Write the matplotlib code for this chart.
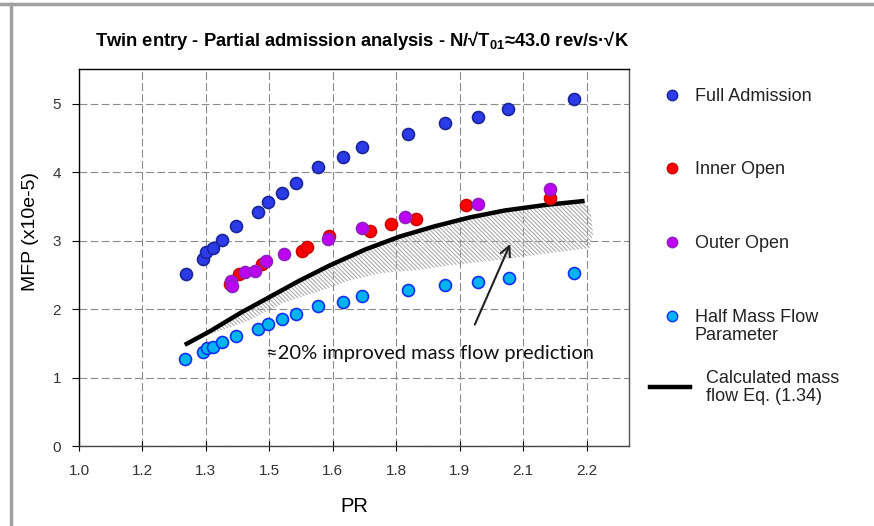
import numpy as np
import matplotlib
matplotlib.use("Agg")
import matplotlib.pyplot as plt
from matplotlib.lines import Line2D

plt.rcParams['font.family'] = ['Liberation Sans', 'DejaVu Sans']
plt.rcParams['mathtext.default'] = 'regular'
plt.rcParams['hatch.linewidth'] = 0.8

# Data (PR vs MFP x1e-5)
full_pr = [1.252, 1.294, 1.300, 1.317, 1.339, 1.370, 1.422, 1.447, 1.480, 1.512,
           1.564, 1.625, 1.669, 1.778, 1.865, 1.943, 2.014, 2.169]
full_mfp = [2.52, 2.73, 2.84, 2.90, 3.01, 3.21, 3.42, 3.57, 3.70, 3.84,
            4.08, 4.22, 4.36, 4.56, 4.71, 4.81, 4.92, 5.07]

inner_pr = [1.357, 1.379, 1.432, 1.526, 1.538, 1.591, 1.687, 1.737, 1.797, 1.914, 2.113]
inner_mfp = [2.37, 2.51, 2.66, 2.85, 2.91, 3.07, 3.14, 3.25, 3.31, 3.52, 3.62]

outer_pr = [1.359, 1.361, 1.392, 1.416, 1.441, 1.484, 1.589, 1.669, 1.771, 1.944, 2.114]
outer_mfp = [2.41, 2.34, 2.54, 2.56, 2.71, 2.81, 3.03, 3.18, 3.34, 3.54, 3.75]

half_pr = [1.250, 1.294, 1.303, 1.317, 1.339, 1.370, 1.422, 1.447, 1.479, 1.513,
           1.564, 1.624, 1.668, 1.778, 1.865, 1.942, 2.016, 2.169]
half_mfp = [1.27, 1.38, 1.43, 1.45, 1.52, 1.61, 1.71, 1.79, 1.85, 1.93,
            2.04, 2.11, 2.19, 2.28, 2.36, 2.40, 2.46, 2.53]

calc_pr = [1.250, 1.310, 1.380, 1.451, 1.522, 1.593, 1.676, 1.758, 1.841, 1.924,
           2.006, 2.101, 2.195]
calc_mfp = [1.48, 1.68, 1.94, 2.18, 2.42, 2.64, 2.87, 3.06, 3.21, 3.34,
            3.44, 3.52, 3.58]

# lower edge of the hatched "improvement" band
band_pr = [1.314, 1.404, 1.482, 1.562, 1.640, 1.718, 1.798, 1.876, 1.995, 2.113, 2.207]
band_mfp = [1.64, 1.84, 2.09, 2.25, 2.42, 2.53, 2.57, 2.64, 2.72, 2.82, 2.89]

xtick_pos = [1.0, 1.15, 1.3, 1.45, 1.6, 1.75, 1.9, 2.05, 2.2]
xtick_labels = ["1.0", "1.2", "1.3", "1.5", "1.6", "1.8", "1.9", "2.1", "2.2"]

W, H = 874, 526
fig = plt.figure(figsize=(8.74, 5.26), dpi=100)
ax = fig.add_axes([79 / W, 1 - 446.3 / H, 550 / W, 377 / H])

# hatched band between the calculated curve and the lower edge
top_x = [p for p in calc_pr if p >= 1.30]
top_y = [m for p, m in zip(calc_pr, calc_mfp) if p >= 1.30]
poly_x = top_x + [2.21, 2.215] + band_pr[::-1]
poly_y = top_y + [3.4, 3.1] + band_mfp[::-1]
ax.fill(poly_x, poly_y, facecolor='none', edgecolor='#acacac',
        hatch='\\\\\\\\\\\\\\\\', linewidth=0, zorder=2)

mk = dict(linestyle='none', marker='o', markersize=8.6, markeredgewidth=1.2, zorder=4)
ax.plot(full_pr, full_mfp, color='#2B3BE8', markeredgecolor='#1B2499', **mk)
ax.plot(inner_pr, inner_mfp, color='#FF0000', markeredgecolor='#D00000', **mk)
ax.plot(outer_pr, outer_mfp, color='#BE00F2', markeredgecolor='#8E20C0', **mk)
ax.plot(half_pr, half_mfp, color='#00B4F0', markeredgecolor='#1030F0', **mk)
ax.plot(calc_pr, calc_mfp, color='black', linewidth=3.2, zorder=3,
        solid_capstyle='butt', solid_joinstyle='round')

ax.annotate('', xy=(2.022, 2.99), xytext=(1.933, 1.74),
            arrowprops=dict(arrowstyle='->', color='#222222', lw=1.5, mutation_scale=18),
            zorder=5)
ax.text(1.829, 1.35, '\u224820% improved mass flow prediction', ha='center', va='center',
        fontsize=14.5, family=['Lato', 'DejaVu Sans'], color='#111111', zorder=5)

ax.set_xlim(1.0, 2.3)
ax.set_ylim(0, 5.5)
ax.set_xticks(xtick_pos)
ax.set_xticklabels(xtick_labels)
ax.set_yticks([0, 1, 2, 3, 4, 5])
ax.grid(True, color='#8a8a8a', linestyle=(0, (7, 3)), linewidth=0.8, zorder=0)
ax.set_axisbelow(True)
ax.tick_params(axis='x', direction='inout', length=7, pad=9, labelsize=11,
               labelcolor='#333333')
ax.tick_params(axis='y', direction='out', length=5, pad=8, labelsize=11,
               labelcolor='#333333')
for s in ax.spines.values():
    s.set_linewidth(1.0)
ax.spines['right'].set_color('#555555')
ax.spines['bottom'].set_color('#444444')

ax.set_xlabel('PR', fontsize=14.5, labelpad=14)
ax.set_ylabel('MFP (x10e-5)', fontsize=14)
ax.yaxis.set_label_coords(-0.073, 0.571)

fig.text(362 / W, 1 - 40 / H,
         'Twin entry - Partial admission analysis - N/\u221aT$_{01}$\u224843.0 rev/s\u00b7\u221aK',
         ha='center', va='center', fontsize=13.2, fontweight='bold')

# legend drawn on the right, outside the axes
def fx(px):
    return px / W


def fy(py):
    return 1 - py / H


leg = [
    (95, 'Full Admission', '#2B3BE8', '#1B2499'),
    (168, 'Inner Open', '#FF0000', '#D00000'),
    (242, 'Outer Open', '#BE00F2', '#8E20C0'),
    (316, 'Half Mass Flow\nParameter', '#00B4F0', '#1030F0'),
]
for py, label, fc, ec in leg:
    fig.add_artist(Line2D([fx(672)], [fy(py)], marker='o', markersize=7.5,
                          markerfacecolor=fc, markeredgecolor=ec, markeredgewidth=1,
                          linestyle='none', transform=fig.transFigure))
    fig.text(fx(695), fy(py - 7), label, ha='left', va='top', fontsize=13,
             color='#222222', linespacing=1.1)
fig.add_artist(Line2D([fx(650), fx(690)], [fy(387), fy(387)], color='black',
                      linewidth=3.2, transform=fig.transFigure))
fig.text(fx(706), fy(370), 'Calculated mass\nflow Eq. (1.34)', ha='left', va='top',
         fontsize=13, color='#222222', linespacing=1.1)

# frame lines of the original screenshot
fig.add_artist(Line2D([0, 1], [fy(3.5), fy(3.5)], color='#a0a0a0', linewidth=2.5,
                      transform=fig.transFigure))
fig.add_artist(Line2D([fx(11), fx(11)], [0, fy(3.5)], color='#a0a0a0', linewidth=2.5,
                      transform=fig.transFigure))

fig.savefig('out.png', dpi=100)
